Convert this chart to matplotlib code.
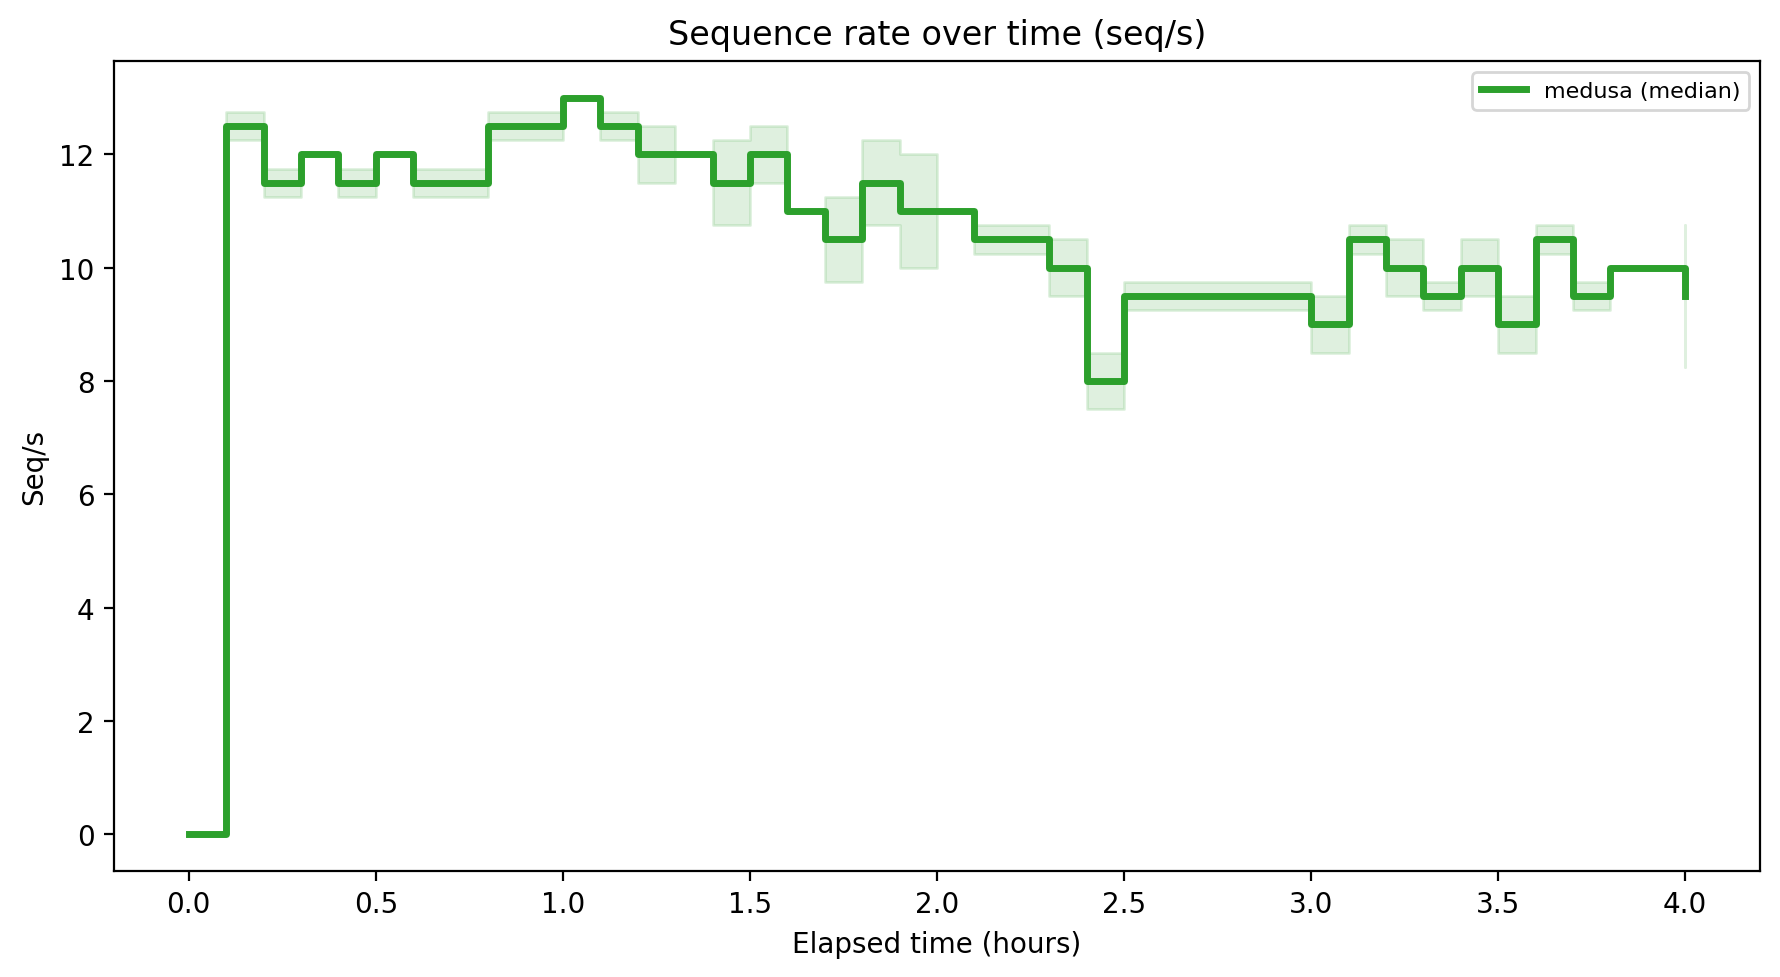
import matplotlib
matplotlib.use("Agg")
import matplotlib.pyplot as plt
import numpy as np

# elapsed time in hours, one bin every 6 minutes
hours = [0.0, 0.1, 0.2, 0.3, 0.4, 0.5, 0.6, 0.7, 0.8, 0.9,
         1.0, 1.1, 1.2, 1.3, 1.4, 1.5, 1.6, 1.7, 1.8, 1.9,
         2.0, 2.1, 2.2, 2.3, 2.4, 2.5, 2.6, 2.7, 2.8, 2.9,
         3.0, 3.1, 3.2, 3.3, 3.4, 3.5, 3.6, 3.7, 3.8, 3.9,
         4.0]

# median seq/s per bin
median_rate = [0.0, 12.5, 11.5, 12.0, 11.5, 12.0, 11.5, 11.5, 12.5, 12.5,
               13.0, 12.5, 12.0, 12.0, 11.5, 12.0, 11.0, 10.5, 11.5, 11.0,
               11.0, 10.5, 10.5, 10.0, 8.0, 9.5, 9.5, 9.5, 9.5, 9.5,
               9.0, 10.5, 10.0, 9.5, 10.0, 9.0, 10.5, 9.5, 10.0, 10.0,
               9.5]

# spread across runs (lower / upper)
low_rate = [0.0, 12.25, 11.25, 12.0, 11.25, 12.0, 11.25, 11.25, 12.25, 12.25,
            13.0, 12.25, 11.5, 12.0, 10.75, 11.5, 11.0, 9.75, 10.75, 10.0,
            11.0, 10.25, 10.25, 9.5, 7.5, 9.25, 9.25, 9.25, 9.25, 9.25,
            8.5, 10.25, 9.5, 9.25, 9.5, 8.5, 10.25, 9.25, 10.0, 10.0,
            8.25]
high_rate = [0.0, 12.75, 11.75, 12.0, 11.75, 12.0, 11.75, 11.75, 12.75, 12.75,
             13.0, 12.75, 12.5, 12.0, 12.25, 12.5, 11.0, 11.25, 12.25, 12.0,
             11.0, 10.75, 10.75, 10.5, 8.5, 9.75, 9.75, 9.75, 9.75, 9.75,
             9.5, 10.75, 10.5, 9.75, 10.5, 9.5, 10.75, 9.75, 10.0, 10.0,
             10.75]

color = "#2ca02c"

fig, ax = plt.subplots(figsize=(8.9, 4.89), dpi=200)
fig.subplots_adjust(left=0.064, right=0.9888, top=0.9366, bottom=0.1084)

ax.fill_between(hours, low_rate, high_rate, step="post", color=color, alpha=0.15)
ax.plot(hours, median_rate, drawstyle="steps-post", color=color, linewidth=2.5,
        label="medusa (median)")

ax.set_title("Sequence rate over time (seq/s)")
ax.set_xlabel("Elapsed time (hours)")
ax.set_ylabel("Seq/s")
ax.legend(loc="upper right", fontsize=8)

fig.savefig("out.png", dpi=200)
